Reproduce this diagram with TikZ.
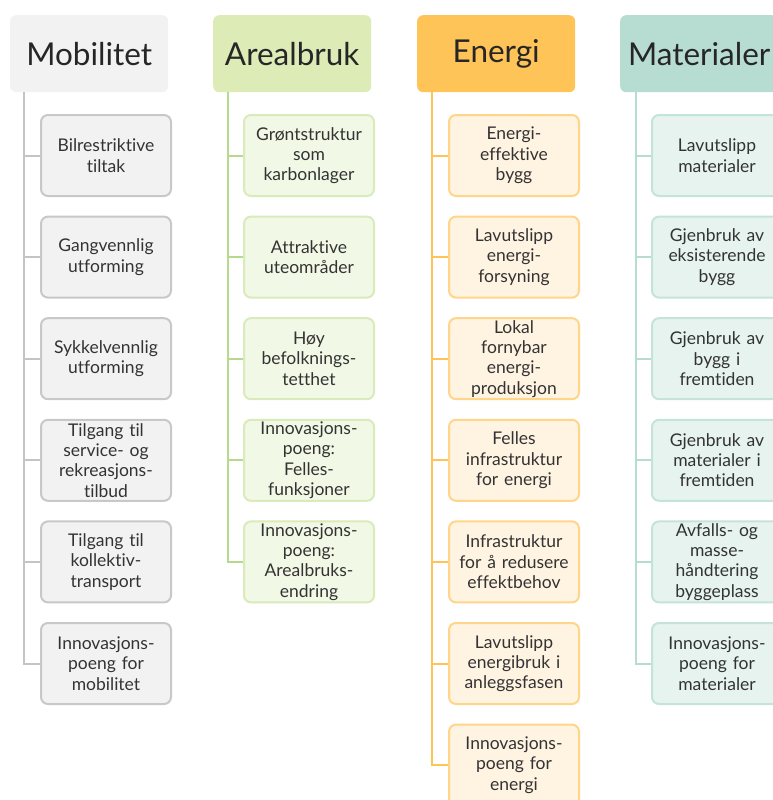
\documentclass[tikz,border=0pt]{standalone}
\usepackage{fontspec}
\setmainfont{Lato}[Ligatures={NoCommon}]
\definecolor{mobH}{HTML}{F2F2F2}
\definecolor{mobF}{HTML}{F2F2F2}
\definecolor{mobB}{HTML}{C8C8C8}
\definecolor{mobL}{HTML}{C4C4C4}
\definecolor{arH}{HTML}{DDEBB7}
\definecolor{arF}{HTML}{F2F8E6}
\definecolor{arB}{HTML}{D9EBBA}
\definecolor{arL}{HTML}{B4DB8C}
\definecolor{enH}{HTML}{FFC457}
\definecolor{enF}{HTML}{FFF3E2}
\definecolor{enB}{HTML}{FFD58A}
\definecolor{enL}{HTML}{FFC457}
\definecolor{maH}{HTML}{B7DDD3}
\definecolor{maF}{HTML}{E6F3EF}
\definecolor{maB}{HTML}{C4E4DA}
\definecolor{maL}{HTML}{B7DDD3}
\definecolor{txt}{HTML}{333333}
\tikzset{
  hdr/.style={anchor=north west, minimum width=158pt, minimum height=77pt, inner sep=0pt,
    rounded corners=6pt, text=black!85, font=\fontsize{31.5}{34}\selectfont},
  kid/.style={anchor=north west, minimum width=130pt, minimum height=81pt, inner sep=0pt,
    rounded corners=7pt, line width=2pt, align=center, text width=128pt, text=txt,
    font=\fontsize{17.5}{20.3}\selectfont},
  conn/.style={line width=2pt}
}
\begin{document}
\begin{tikzpicture}[x=1pt,y=-1pt]
\useasboundingbox (0,0) rectangle (772,800);
\fill[white] (0,0) rectangle (772,800);
% ---------------- Mobilitet
\node[hdr, fill=mobH] (mh) at (10,15) {Mobilitet};
\node[kid, fill=mobF, draw=mobB] (m1) at (40,114.0) {Bilrestriktive\\tiltak};
\node[kid, fill=mobF, draw=mobB] (m2) at (40,215.6) {Gangvennlig\\utforming};
\node[kid, fill=mobF, draw=mobB] (m3) at (40,317.2) {Sykkelvennlig\\utforming};
\node[kid, fill=mobF, draw=mobB] (m4) at (40,418.8) {Tilgang til\\service- og\\rekreasjons-\\tilbud};
\node[kid, fill=mobF, draw=mobB] (m5) at (40,520.4) {Tilgang til\\kollektiv-\\transport};
\node[kid, fill=mobF, draw=mobB] (m6) at (40,622.0) {Innovasjons-\\poeng for\\mobilitet};
\coordinate (mt) at (24,92);
\draw[conn, mobL] (mt) |- (m6.west);
\foreach \i in {1,...,5} \draw[conn, mobL] (24,0 |- m\i.west) -- (m\i.west);
% ---------------- Arealbruk
\node[hdr, fill=arH] (ah) at (213,15) {Arealbruk};
\node[kid, fill=arF, draw=arB] (a1) at (243,114.0) {Grøntstruktur\\som\\karbonlager};
\node[kid, fill=arF, draw=arB] (a2) at (243,215.6) {Attraktive\\uteområder};
\node[kid, fill=arF, draw=arB] (a3) at (243,317.2) {Høy\\befolknings-\\tetthet};
\node[kid, fill=arF, draw=arB] (a4) at (243,418.8) {Innovasjons-\\poeng:\\Felles-\\funksjoner};
\node[kid, fill=arF, draw=arB] (a5) at (243,520.4) {Innovasjons-\\poeng:\\Arealbruks-\\endring};
\coordinate (at) at (228,92);
\draw[conn, arL] (at) |- (a5.west);
\foreach \i in {1,...,4} \draw[conn, arL] (228,0 |- a\i.west) -- (a\i.west);
% ---------------- Energi
\node[hdr, fill=enH] (eh) at (417,15) {Energi};
\node[kid, fill=enF, draw=enB] (e1) at (448,114.0) {Energi-\\effektive\\bygg};
\node[kid, fill=enF, draw=enB] (e2) at (448,215.6) {Lavutslipp\\energi-\\forsyning};
\node[kid, fill=enF, draw=enB] (e3) at (448,317.2) {Lokal\\fornybar\\energi-\\produksjon};
\node[kid, fill=enF, draw=enB] (e4) at (448,418.8) {Felles\\infrastruktur\\for energi};
\node[kid, fill=enF, draw=enB] (e5) at (448,520.4) {Infrastruktur\\for å redusere\\effektbehov};
\node[kid, fill=enF, draw=enB] (e6) at (448,622.0) {Lavutslipp\\energibruk i\\anleggsfasen};
\node[kid, fill=enF, draw=enB] (e7) at (448,723.6) {Innovasjons-\\poeng for\\energi};
\coordinate (et) at (432,92);
\draw[conn, enL] (et) |- (e7.west);
\foreach \i in {1,...,6} \draw[conn, enL] (432,0 |- e\i.west) -- (e\i.west);
% ---------------- Materialer
\node[hdr, fill=maH] (ah2) at (620,15) {Materialer};
\node[kid, fill=maF, draw=maB] (t1) at (651,114.0) {Lavutslipp\\materialer};
\node[kid, fill=maF, draw=maB] (t2) at (651,215.6) {Gjenbruk av\\eksisterende\\bygg};
\node[kid, fill=maF, draw=maB] (t3) at (651,317.2) {Gjenbruk av\\bygg i\\fremtiden};
\node[kid, fill=maF, draw=maB] (t4) at (651,418.8) {Gjenbruk av\\materialer i\\fremtiden};
\node[kid, fill=maF, draw=maB] (t5) at (651,520.4) {Avfalls- og\\masse-\\håndtering\\byggeplass};
\node[kid, fill=maF, draw=maB] (t6) at (651,622.0) {Innovasjons-\\poeng for\\materialer};
\coordinate (tt) at (636,92);
\draw[conn, maL] (tt) |- (t6.west);
\foreach \i in {1,...,5} \draw[conn, maL] (636,0 |- t\i.west) -- (t\i.west);
\end{tikzpicture}
\end{document}
